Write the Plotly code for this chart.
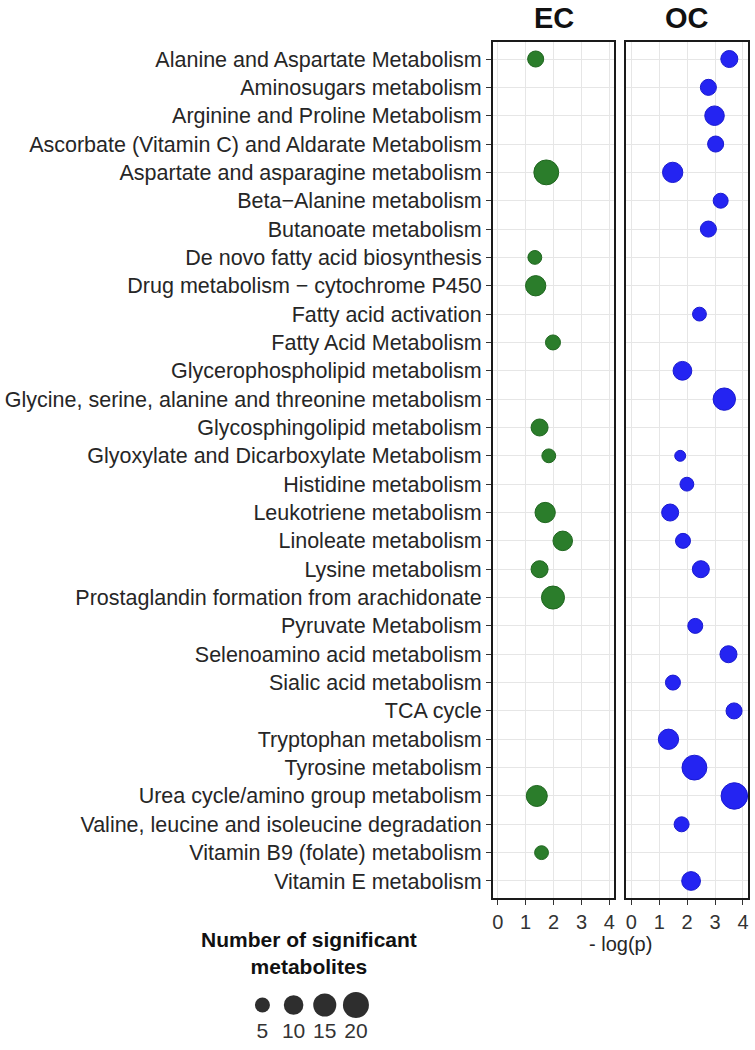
import numpy as np
import plotly.graph_objects as go

pathways = [
    "Alanine and Aspartate Metabolism",
    "Aminosugars metabolism",
    "Arginine and Proline Metabolism",
    "Ascorbate (Vitamin C) and Aldarate Metabolism",
    "Aspartate and asparagine metabolism",
    "Beta\u2212Alanine metabolism",
    "Butanoate metabolism",
    "De novo fatty acid biosynthesis",
    "Drug metabolism \u2212 cytochrome P450",
    "Fatty acid activation",
    "Fatty Acid Metabolism",
    "Glycerophospholipid metabolism",
    "Glycine, serine, alanine and threonine metabolism",
    "Glycosphingolipid metabolism",
    "Glyoxylate and Dicarboxylate Metabolism",
    "Histidine metabolism",
    "Leukotriene metabolism",
    "Linoleate metabolism",
    "Lysine metabolism",
    "Prostaglandin formation from arachidonate",
    "Pyruvate Metabolism",
    "Selenoamino acid metabolism",
    "Sialic acid metabolism",
    "TCA cycle",
    "Tryptophan metabolism",
    "Tyrosine metabolism",
    "Urea cycle/amino group metabolism",
    "Valine, leucine and isoleucine degradation",
    "Vitamin B9 (folate) metabolism",
    "Vitamin E metabolism",
]

ec_pathways = [
    "Alanine and Aspartate Metabolism",
    "Aspartate and asparagine metabolism",
    "De novo fatty acid biosynthesis",
    "Drug metabolism \u2212 cytochrome P450",
    "Fatty Acid Metabolism",
    "Glycosphingolipid metabolism",
    "Glyoxylate and Dicarboxylate Metabolism",
    "Leukotriene metabolism",
    "Linoleate metabolism",
    "Lysine metabolism",
    "Prostaglandin formation from arachidonate",
    "Urea cycle/amino group metabolism",
    "Vitamin B9 (folate) metabolism",
]
ec_logp = [1.36, 1.74, 1.33, 1.36, 1.98, 1.50, 1.83, 1.70, 2.33, 1.50, 1.98, 1.40, 1.57]
ec_count = [6, 18, 4, 11, 5, 7, 4, 11, 10, 7, 15, 12, 4]

oc_pathways = [
    "Alanine and Aspartate Metabolism",
    "Aminosugars metabolism",
    "Arginine and Proline Metabolism",
    "Ascorbate (Vitamin C) and Aldarate Metabolism",
    "Aspartate and asparagine metabolism",
    "Beta\u2212Alanine metabolism",
    "Butanoate metabolism",
    "Fatty acid activation",
    "Glycerophospholipid metabolism",
    "Glycine, serine, alanine and threonine metabolism",
    "Glyoxylate and Dicarboxylate Metabolism",
    "Histidine metabolism",
    "Leukotriene metabolism",
    "Linoleate metabolism",
    "Lysine metabolism",
    "Pyruvate Metabolism",
    "Selenoamino acid metabolism",
    "Sialic acid metabolism",
    "TCA cycle",
    "Tryptophan metabolism",
    "Tyrosine metabolism",
    "Urea cycle/amino group metabolism",
    "Valine, leucine and isoleucine degradation",
    "Vitamin E metabolism",
]
oc_logp = [3.51, 2.76, 2.98, 3.02, 1.48, 3.20, 2.76, 2.44, 1.83, 3.33, 1.75, 1.99,
           1.39, 1.85, 2.49, 2.29, 3.48, 1.49, 3.68, 1.33, 2.26, 3.69, 1.80, 2.14]
oc_count = [7, 6, 10, 6, 11, 5, 6, 4, 9, 14, 2, 4,
            7, 5, 7, 5, 7, 5, 6, 11, 18, 21, 5, 9]

legend_counts = [5, 10, 15, 20]
x_ticks = [0, 1, 2, 3, 4]
panel_titles = ["EC", "OC"]

W, H = 755, 1050
FONT = "Liberation Sans, Arial, Helvetica, sans-serif"


def diam(n):
    return 4 + 4.92 * np.sqrt(np.asarray(n, dtype=float))


def px(v):
    return v / W


def py(v):
    return 1 - v / H


fig = go.Figure()
fig.add_trace(go.Scatter(
    x=ec_logp, y=ec_pathways, mode="markers", xaxis="x", yaxis="y",
    marker=dict(size=diam(ec_count), sizemode="diameter", color="#2b7d2b", opacity=1,
                line=dict(color="#1f661f", width=1)),
    showlegend=False, hoverinfo="x+y"))
fig.add_trace(go.Scatter(
    x=oc_logp, y=oc_pathways, mode="markers", xaxis="x2", yaxis="y2",
    marker=dict(size=diam(oc_count), sizemode="diameter", color="#2424f2", opacity=1,
                line=dict(color="#1a1ad0", width=1)),
    showlegend=False, hoverinfo="x+y"))
# size legend: circles and their labels
legend_x = [str(c) for c in legend_counts]
fig.add_trace(go.Scatter(
    x=legend_x, y=[0] * len(legend_counts), mode="markers",
    xaxis="x3", yaxis="y3",
    marker=dict(size=diam(legend_counts), sizemode="diameter", color="#2e2e2e", opacity=1,
                line=dict(width=0)),
    showlegend=False, hoverinfo="skip"))
fig.add_trace(go.Scatter(
    x=legend_x, y=[-1.4] * len(legend_counts), mode="text", text=legend_x,
    textposition="middle center", xaxis="x3", yaxis="y3", cliponaxis=False,
    textfont=dict(family=FONT, size=21, color="#333333"),
    showlegend=False, hoverinfo="skip"))

ydom = [py(898), py(42)]
common_x = dict(range=[-0.18, 4.18], tickvals=x_ticks, ticks="outside", ticklen=5,
                tickwidth=1, tickcolor="#333333", showgrid=True, gridcolor="#e6e6e6",
                gridwidth=1, zeroline=False, showline=True, linecolor="#1a1a1a",
                linewidth=1.5, mirror=True,
                tickfont=dict(family=FONT, size=20, color="#333333"))
common_y = dict(type="category", categoryorder="array", categoryarray=pathways,
                range=[len(pathways) - 0.4, -0.6], domain=ydom, showgrid=True,
                gridcolor="#e6e6e6", gridwidth=1, zeroline=False, showline=True,
                linecolor="#1a1a1a", linewidth=1.5, mirror=True, automargin=False)

fig.update_layout(
    width=W, height=H, margin=dict(l=0, r=0, t=0, b=0),
    paper_bgcolor="white", plot_bgcolor="white",
    xaxis=dict(domain=[px(493), px(615)], anchor="y", **common_x),
    xaxis2=dict(domain=[px(627), px(749)], anchor="y2", **common_x),
    yaxis=dict(anchor="x", ticks="outside", ticklen=5, tickwidth=1, tickcolor="#333333",
               tickfont=dict(family=FONT, size=21.5, color="#262626"), **common_y),
    yaxis2=dict(anchor="x2", showticklabels=False, ticks="", **common_y),
    xaxis3=dict(domain=[px(246.5), px(371.5)], anchor="y3", type="category",
                range=[-0.5, len(legend_counts) - 0.5], visible=False),
    yaxis3=dict(domain=[py(1045), py(985)], anchor="x3", range=[-2, 1], visible=False),
    showlegend=False,
)

annotations = []
for i, t in enumerate(panel_titles):
    annotations.append(dict(text="<b>%s</b>" % t, xref="x%s domain" % ("" if i == 0 else "2"),
                            x=0.5, yref="paper", y=py(18), xanchor="center", yanchor="middle",
                            showarrow=False, font=dict(family=FONT, size=29, color="#111111")))
annotations.append(dict(text="- log(p)", xref="paper", x=px(621), yref="paper", y=py(944),
                        xanchor="center", yanchor="middle", showarrow=False,
                        font=dict(family=FONT, size=20, color="#262626")))
annotations.append(dict(text="<b>Number of significant<br>metabolites</b>", xref="paper",
                        x=px(309), yref="paper", y=py(953), xanchor="center",
                        yanchor="middle", showarrow=False,
                        font=dict(family=FONT, size=21, color="#111111")))
fig.update_layout(annotations=annotations)

fig.write_html(
    "out.html",
    config={"displayModeBar": False},
    post_script="document.body.style.margin='0';document.body.style.padding='0';"
                "document.body.style.overflow='hidden';"
                "document.documentElement.style.overflow='hidden';",
)
